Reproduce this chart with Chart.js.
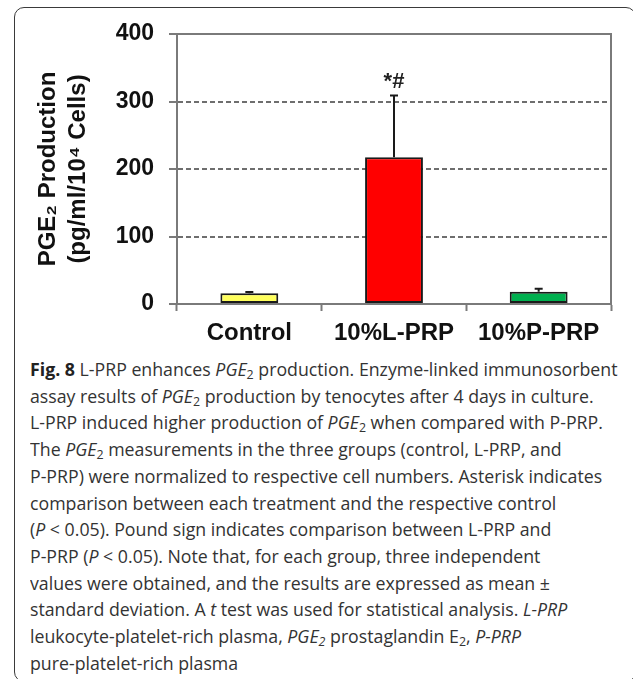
<!DOCTYPE html>
<html>
<head>
<meta charset="utf-8">
<script src="https://cdn.jsdelivr.net/npm/chart.js@4/dist/chart.umd.min.js"></script>
<style>
  body{margin:0;background:#fff;width:633px;height:679px;overflow:hidden;position:relative}
  .frame{position:absolute;left:14px;top:7px;width:622px;height:675px;box-sizing:border-box;border:1.5px solid #3a3a3a;border-radius:10px}
  #chart{position:absolute;left:0;top:0}
  .caption{position:absolute;left:30px;top:356px;font-family:'Open Sans',sans-serif;font-size:18px;line-height:26.7px;color:#333;white-space:nowrap;transform:scaleX(0.985);transform-origin:0 0}
  .caption b{color:#222}
  .caption sub{font-size:0.7em;vertical-align:-0.25em;line-height:0}
</style>
</head>
<body>
<div class="frame"></div>
<canvas id="chart" width="633" height="350"></canvas>
<div class="caption">
  <div><b>Fig. 8</b> L-PRP enhances <i>PGE</i><sub>2</sub> production. Enzyme-linked immunosorbent</div>
  <div>assay results of <i>PGE</i><sub>2</sub> production by tenocytes after 4 days in culture.</div>
  <div>L-PRP induced higher production of <i>PGE</i><sub>2</sub> when compared with P-PRP.</div>
  <div>The <i>PGE</i><sub>2</sub> measurements in the three groups (control, L-PRP, and</div>
  <div>P-PRP) were normalized to respective cell numbers. Asterisk indicates</div>
  <div>comparison between each treatment and the respective control</div>
  <div>(<i>P</i> &lt; 0.05). Pound sign indicates comparison between L-PRP and</div>
  <div>P-PRP (<i>P</i> &lt; 0.05). Note that, for each group, three independent</div>
  <div>values were obtained, and the results are expressed as mean ±</div>
  <div>standard deviation. A <i>t</i> test was used for statistical analysis. <i>L-PRP</i></div>
  <div>leukocyte-platelet-rich plasma, <i>PGE<sub>2</sub></i> prostaglandin E<sub>2</sub>, <i>P-PRP</i></div>
  <div>pure-platelet-rich plasma</div>
</div>
<script>
const categories = ['Control', '10%L-PRP', '10%P-PRP'];
const means = [15.8, 217.5, 18.3];
const sds = [1.8, 91.5, 4.2];
const marks = ['', '*#', ''];
const yTicks = [0, 100, 200, 300, 400];
const barColors = ['#ffff5c', '#ff0000', '#00b04f'];

const FONT = "'Liberation Sans', Arial, sans-serif";
const AXIS = '#7a7a7a';

// top and right sides of the plot box
const frameBox = {
  id: 'frameBox',
  beforeDatasetsDraw(chart) {
    const {ctx, chartArea: a} = chart;
    ctx.save();
    ctx.strokeStyle = AXIS;
    ctx.lineWidth = 2;
    ctx.beginPath();
    ctx.moveTo(a.left, a.top);
    ctx.lineTo(a.right, a.top);
    ctx.lineTo(a.right, a.bottom);
    ctx.stroke();
    ctx.restore();
  }
};

// upper error bars (mean + sd) and significance marks
const errorBars = {
  id: 'errorBars',
  afterDatasetsDraw(chart) {
    const {ctx, scales: {y}} = chart;
    const meta = chart.getDatasetMeta(0);
    ctx.save();
    ctx.strokeStyle = '#1a1a1a';
    ctx.lineWidth = 2;
    ctx.fillStyle = '#222';
    ctx.font = 'bold 22px ' + FONT;
    ctx.textAlign = 'center';
    ctx.textBaseline = 'middle';
    meta.data.forEach((bar, i) => {
      const top = y.getPixelForValue(means[i] + sds[i]);
      ctx.beginPath();
      ctx.moveTo(bar.x, bar.y);
      ctx.lineTo(bar.x, top);
      ctx.moveTo(bar.x - 4, top);
      ctx.lineTo(bar.x + 4, top);
      ctx.stroke();
      if (marks[i]) ctx.fillText(marks[i], bar.x, top - 13);
    });
    ctx.restore();
  }
};

new Chart(document.getElementById('chart'), {
  type: 'bar',
  data: {
    labels: categories,
    datasets: [{
      data: means,
      backgroundColor: barColors,
      borderColor: '#1a1a1a',
      borderWidth: 2,
      borderSkipped: false,
      barPercentage: 0.4,
      categoryPercentage: 1
    }]
  },
  options: {
    responsive: false,
    animation: false,
    layout: {padding: {left: 0, right: 22, top: 34, bottom: 0}},
    plugins: {legend: {display: false}, tooltip: {enabled: false}},
    scales: {
      x: {
        grid: {drawOnChartArea: false, drawTicks: true, tickLength: 7, color: AXIS, tickColor: AXIS, tickWidth: 2},
        border: {display: true, color: AXIS, width: 2},
        ticks: {color: '#111', padding: 8, font: {family: FONT, size: 24, weight: 'bold'}},
        afterFit: s => { s.height = 46; }
      },
      y: {
        min: 0,
        max: 400,
        afterBuildTicks: s => { s.ticks = yTicks.map(v => ({value: v})); },
        grid: {color: '#6e6e6e', lineWidth: 2, tickLength: 8, tickColor: AXIS, tickWidth: 2},
        border: {display: true, color: AXIS, width: 2, dash: c => (c.tick && c.tick.value > 0 && c.tick.value < 400) ? [5, 3] : []},
        ticks: {color: '#111', padding: 15, font: {family: FONT, size: 23, weight: 'bold'}},
        title: {
          display: true,
          text: ['PGE₂ Production', '(pg/ml/10⁴ Cells)'],
          color: '#111',
          font: {family: FONT, size: 24, weight: 'bold', lineHeight: 1.25},
          padding: {top: 33, bottom: 0}
        },
        afterFit: s => { s.width = 177; }
      }
    }
  },
  plugins: [frameBox, errorBars]
});
</script>
</body>
</html>
